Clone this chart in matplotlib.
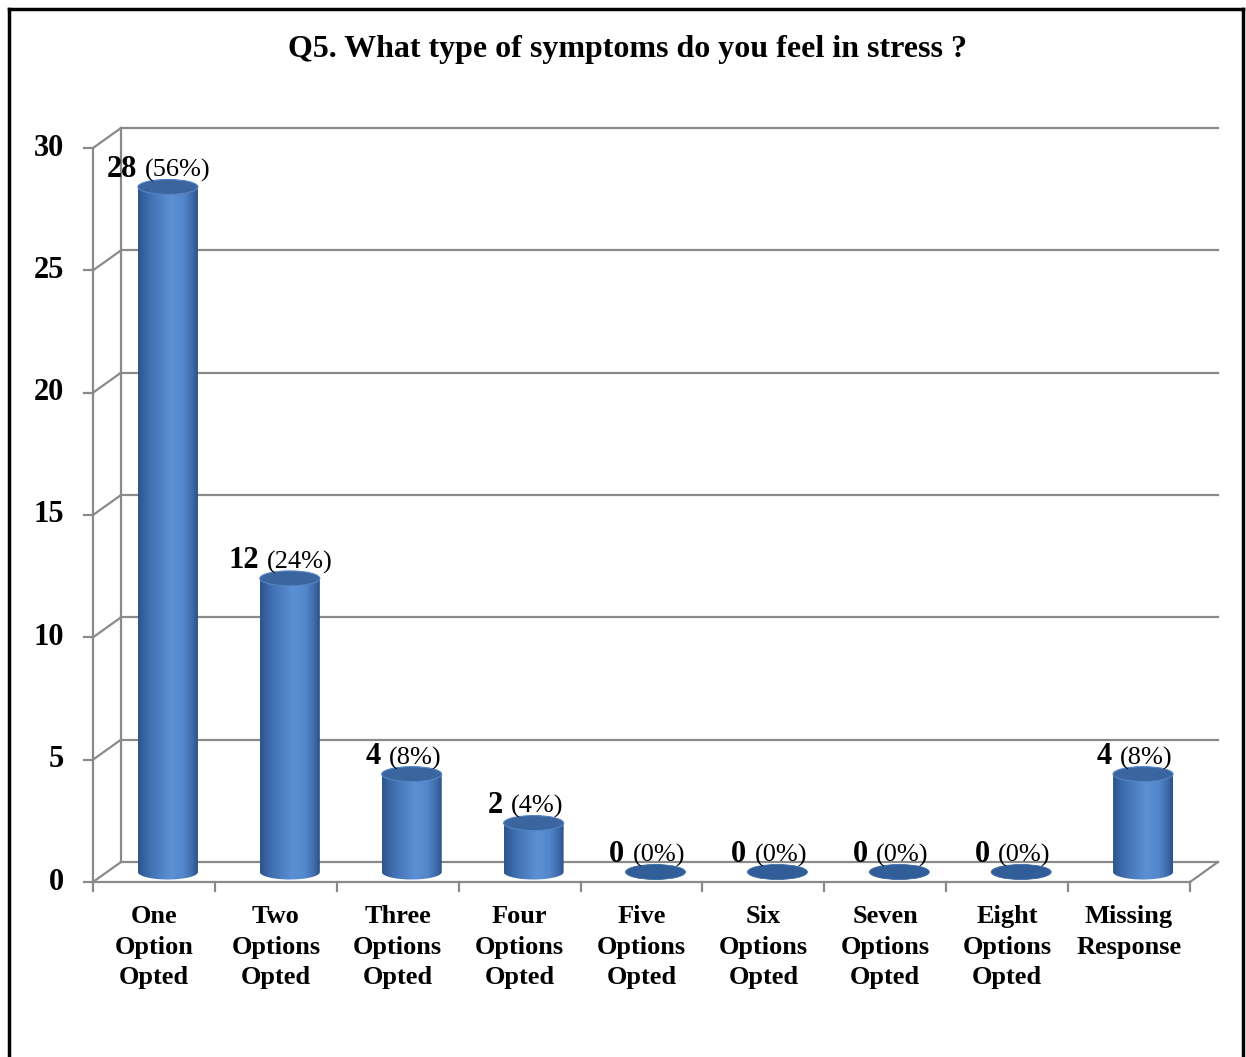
import numpy as np
import matplotlib
matplotlib.use("Agg")
import matplotlib.pyplot as plt
from matplotlib.patches import Ellipse, Polygon
from matplotlib.colors import LinearSegmentedColormap
from matplotlib.lines import Line2D

# ---------------- data ----------------
categories = ["One\nOption\nOpted", "Two\nOptions\nOpted", "Three\nOptions\nOpted",
              "Four\nOptions\nOpted", "Five\nOptions\nOpted", "Six\nOptions\nOpted",
              "Seven\nOptions\nOpted", "Eight\nOptions\nOpted", "Missing\nResponse"]
counts = [28, 12, 4, 2, 0, 0, 0, 0, 4]
percents = ["(56%)", "(24%)", "(8%)", "(4%)", "(0%)", "(0%)", "(0%)", "(0%)", "(8%)"]
y_ticks = [0, 5, 10, 15, 20, 25, 30]
title = "Q5. What type of symptoms do you feel in stress ?"

# ---------------- layout ----------------
W, H = 1246, 1057
fig = plt.figure(figsize=(W / 100, H / 100), dpi=100)
fig.patch.set_facecolor("white")

X0, X1, Y0, Y1 = 93, 1190, 882, 148   # front plot box in pixels
ax = fig.add_axes([X0 / W, 1 - Y0 / H, (X1 - X0) / W, (Y0 - Y1) / H])
n = len(categories)
xmin, xmax = -0.5, n - 0.5
ymin, ymax = 0, 30
sx = (X1 - X0) / (xmax - xmin)   # px per x unit
sy = (Y0 - Y1) / (ymax - ymin)   # px per y unit
dx = 28 / sx                     # depth offset
dy = 20 / sy

PX = 0.72  # points per pixel
serif = ["Liberation Serif", "DejaVu Serif"]
gridc = "#8a8a8a"
glw = 1.6

# back wall gridlines + left wall diagonals
for t in y_ticks:
    ax.add_line(Line2D([xmin + dx, xmax + dx], [t + dy, t + dy], color=gridc, lw=glw,
                       clip_on=False, zorder=1))
    ax.add_line(Line2D([xmin, xmin + dx], [t, t + dy], color=gridc, lw=glw,
                       clip_on=False, zorder=1))
    ax.add_line(Line2D([xmin - 9 / sx, xmin], [t, t], color=gridc, lw=glw,
                       clip_on=False, zorder=2))
    ax.annotate(str(t), (xmin, t), xytext=(-29 * PX, 0), textcoords="offset points",
                ha="right", va="center", fontsize=22, fontweight="bold",
                family=serif, annotation_clip=False)
ax.add_line(Line2D([xmin + dx, xmin + dx], [dy, ymax + dy], color=gridc, lw=glw,
                   clip_on=False, zorder=1))
ax.add_line(Line2D([xmin, xmin], [ymin, ymax], color=gridc, lw=glw, clip_on=False, zorder=2))
ax.add_line(Line2D([xmin, xmax], [0, 0], color=gridc, lw=glw, clip_on=False, zorder=2))
ax.add_line(Line2D([xmax, xmax + dx], [0, dy], color=gridc, lw=glw, clip_on=False, zorder=1))
for k in range(n + 1):
    xk = xmin + k
    ax.add_line(Line2D([xk, xk], [0, -9 / sy], color=gridc, lw=glw, clip_on=False, zorder=2))

# category labels
for i, lab in enumerate(categories):
    ax.annotate(lab, (i, 0), xytext=(0, -23 * PX), textcoords="offset points",
                ha="center", va="top", fontsize=19, fontweight="bold", family=serif,
                linespacing=1.42, annotation_clip=False)

# cylinders
cmap = LinearSegmentedColormap.from_list(
    "cyl", [(0.0, "#2d548c"), (0.18, "#3e6eb0"), (0.55, "#5c90d4"),
            (0.75, "#5488cd"), (0.92, "#3c69a8"), (1.0, "#2c5086")], N=256)
cw = 60 / sx
eh = 15 / sy
grad = np.linspace(0, 1, 256).reshape(1, -1)
theta = np.linspace(0, np.pi, 60)
for i, v in enumerate(counts):
    cx = i + dx / 2
    base = dy / 2
    top = v + dy / 2
    if v > 0:
        xs = [cx - cw / 2, cx - cw / 2, cx + cw / 2, cx + cw / 2]
        ys = [base, top, top, base]
        bx = cx + (cw / 2) * np.cos(theta)
        by = base - (eh / 2) * np.sin(theta)
        verts = np.column_stack([np.r_[xs, bx[1:]], np.r_[ys, by[1:]]])
        body = Polygon(verts, closed=True, facecolor="none", edgecolor="none",
                       transform=ax.transData)
        ax.add_patch(body)
        im = ax.imshow(grad, cmap=cmap, aspect="auto",
                       extent=[cx - cw / 2, cx + cw / 2, base - eh, top],
                       zorder=3, interpolation="bilinear")
        im.set_clip_path(body)
        topc = Ellipse((cx, top), cw, eh, facecolor="#3b659f", edgecolor="#5584c4",
                       lw=0.8, zorder=4)
        ax.add_patch(topc)
    else:
        flat = Ellipse((cx, base), cw, eh, facecolor="#315e98", edgecolor="#3f6ba4",
                       lw=0.6, zorder=4)
        ax.add_patch(flat)

    fx = i - 17 / sx
    ax.annotate(str(v), (fx, v), xytext=(0, 20 * PX), textcoords="offset points",
                ha="right", va="baseline", fontsize=22, fontweight="bold",
                family=serif, annotation_clip=False, zorder=5)
    ax.annotate(percents[i], (fx, v), xytext=(8 * PX, 20 * PX), textcoords="offset points",
                ha="left", va="baseline", fontsize=19, family=serif,
                annotation_clip=False, zorder=5)

ax.set_xlim(xmin, xmax)
ax.set_ylim(ymin, ymax)
ax.axis("off")

fig.text(627 / W, 1 - 49 / H, title, ha="center", va="center", fontsize=23,
         fontweight="bold", family=serif)

bl = 2.5
fig.add_artist(Line2D([9 / W, 9 / W], [0, 1 - 9 / H], color="black", lw=bl,
                      transform=fig.transFigure))
fig.add_artist(Line2D([9 / W, 1243 / W], [1 - 9 / H, 1 - 9 / H], color="black", lw=bl,
                      transform=fig.transFigure))
fig.add_artist(Line2D([1243 / W, 1243 / W], [0, 1 - 9 / H], color="black", lw=bl,
                      transform=fig.transFigure))

fig.savefig("out.png", dpi=100)
